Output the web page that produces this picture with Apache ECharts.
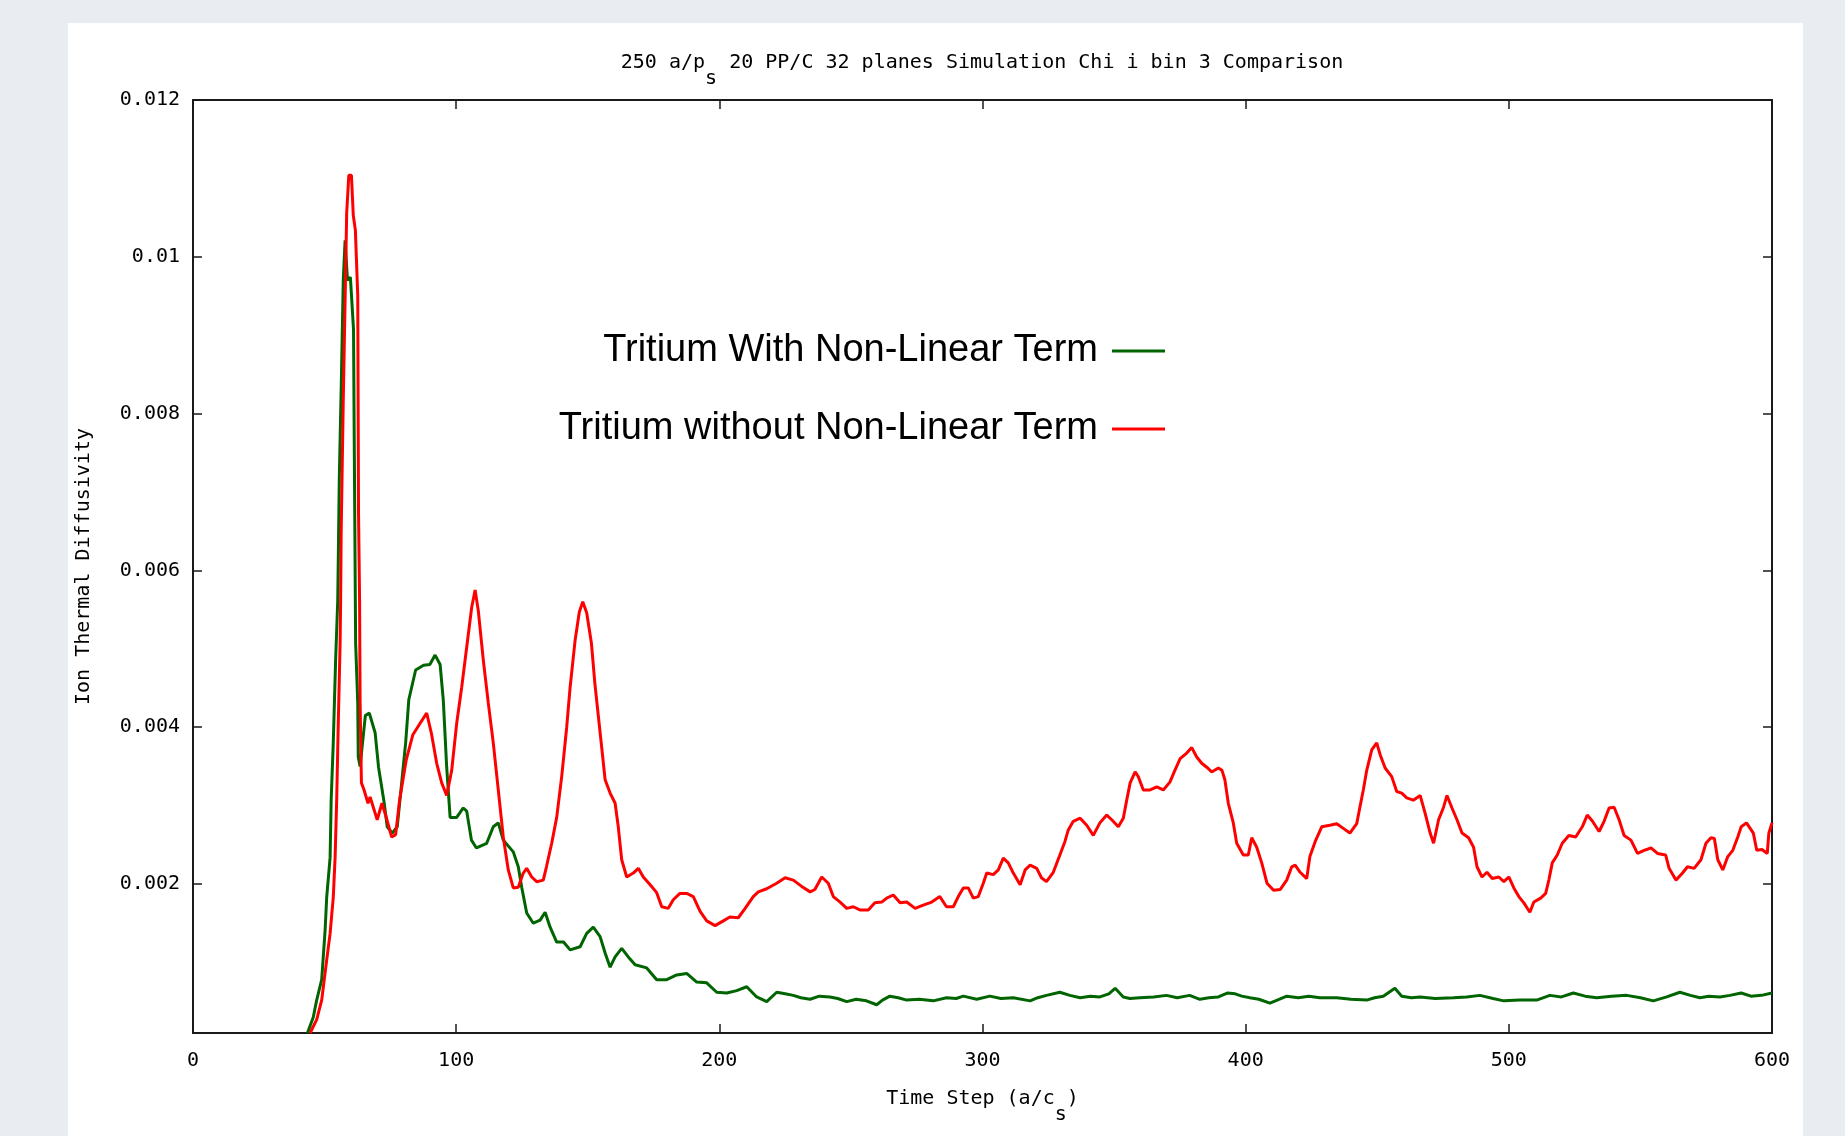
<!DOCTYPE html>
<html>
<head>
<meta charset="utf-8">
<title>Chi i bin 3 Comparison</title>
<script src="https://cdn.jsdelivr.net/npm/echarts@6/dist/echarts.min.js"></script>
<style>
  html, body { margin: 0; padding: 0; width: 1845px; height: 1136px; background: #e9ecf1; overflow: hidden; }
  #card { position: absolute; left: 68px; top: 23px; width: 1735px; height: 1113px; background: #ffffff; }
  #chart { position: absolute; left: 0; top: 0; width: 1845px; height: 1136px; }
</style>
</head>
<body>
<div id="card"></div>
<div id="chart"></div>
<script>
// Series names
const nameWith = 'Tritium With Non-Linear Term';
const nameWithout = 'Tritium without Non-Linear Term';

// Axis ticks
const xTicks = [0, 100, 200, 300, 400, 500, 600];
const yTicks = [0.002, 0.004, 0.006, 0.008, 0.01, 0.012];

// Ion thermal diffusivity vs time step, with the non-linear term  [time, chi]
const withTerm = [
  [43.5, 0.10e-3], [45.7, 0.30e-3], [47.0, 0.52e-3], [48.9, 0.78e-3], [50.2, 1.41e-3],
  [50.8, 1.83e-3], [52.1, 2.34e-3], [52.5, 3.07e-3], [53.3, 3.80e-3], [54.2, 4.86e-3],
  [55.0, 5.62e-3], [55.2, 6.13e-3], [55.6, 7.19e-3], [56.4, 8.47e-3], [57.1, 9.70e-3],
  [57.8, 10.21e-3], [58.7, 9.70e-3], [59.8, 9.74e-3], [60.4, 9.41e-3], [61.0, 9.07e-3],
  [61.3, 7.50e-3], [61.8, 5.07e-3], [62.6, 4.31e-3], [62.8, 3.62e-3], [63.5, 3.50e-3],
  [65.5, 4.15e-3], [67.0, 4.18e-3], [69.2, 3.93e-3], [70.5, 3.49e-3], [72.5, 3.07e-3],
  [73.8, 2.73e-3], [75.7, 2.65e-3], [77.6, 2.73e-3], [78.9, 3.16e-3], [80.8, 3.80e-3],
  [82.0, 4.35e-3], [84.6, 4.73e-3], [87.6, 4.79e-3], [90.0, 4.80e-3], [92.0, 4.92e-3],
  [93.9, 4.80e-3], [95.1, 4.35e-3], [96.4, 3.49e-3], [97.7, 2.85e-3], [100.2, 2.85e-3],
  [102.7, 2.97e-3], [104.0, 2.93e-3], [105.8, 2.56e-3], [107.7, 2.46e-3], [111.6, 2.52e-3],
  [114.1, 2.73e-3], [116.0, 2.78e-3], [117.9, 2.56e-3], [121.7, 2.41e-3], [123.6, 2.22e-3],
  [124.9, 1.96e-3], [126.8, 1.63e-3], [129.3, 1.50e-3], [131.9, 1.54e-3], [133.8, 1.64e-3],
  [135.7, 1.45e-3], [138.2, 1.26e-3], [140.8, 1.26e-3], [143.3, 1.16e-3], [147.1, 1.20e-3],
  [149.6, 1.37e-3], [152.1, 1.45e-3], [154.7, 1.33e-3], [156.6, 1.12e-3], [158.5, 0.94e-3],
  [160.4, 1.07e-3], [162.9, 1.18e-3], [165.4, 1.07e-3], [168.0, 0.97e-3], [172.4, 0.93e-3],
  [176.2, 0.78e-3], [180.0, 0.78e-3], [183.8, 0.84e-3], [187.6, 0.86e-3], [191.4, 0.75e-3],
  [195.2, 0.74e-3], [199.0, 0.62e-3], [202.8, 0.61e-3], [206.6, 0.64e-3], [210.4, 0.69e-3],
  [214.2, 0.56e-3], [218.0, 0.50e-3], [221.8, 0.62e-3], [225.0, 0.60e-3], [228.1, 0.58e-3],
  [231.0, 0.55e-3], [234.5, 0.53e-3], [238.0, 0.57e-3], [242.0, 0.56e-3], [245.0, 0.54e-3],
  [248.4, 0.50e-3], [252.0, 0.53e-3], [255.9, 0.51e-3], [259.8, 0.46e-3], [262.0, 0.52e-3],
  [264.8, 0.57e-3], [268.0, 0.55e-3], [271.2, 0.52e-3], [276.0, 0.53e-3], [281.3, 0.51e-3],
  [286.3, 0.55e-3], [290.0, 0.54e-3], [292.7, 0.57e-3], [297.8, 0.53e-3], [302.8, 0.57e-3],
  [307.0, 0.54e-3], [311.7, 0.55e-3], [318.1, 0.51e-3], [321.0, 0.55e-3], [324.3, 0.58e-3],
  [329.4, 0.62e-3], [333.2, 0.58e-3], [337.1, 0.55e-3], [341.0, 0.57e-3], [344.6, 0.56e-3],
  [348.0, 0.60e-3], [350.4, 0.67e-3], [353.5, 0.56e-3], [356.0, 0.54e-3], [359.8, 0.55e-3],
  [365.0, 0.56e-3], [369.9, 0.58e-3], [374.0, 0.55e-3], [378.7, 0.58e-3], [382.6, 0.53e-3],
  [386.0, 0.55e-3], [389.6, 0.56e-3], [393.0, 0.61e-3], [396.0, 0.60e-3], [398.5, 0.57e-3],
  [401.6, 0.55e-3], [405.0, 0.53e-3], [409.2, 0.48e-3], [412.0, 0.52e-3], [415.6, 0.57e-3],
  [420.0, 0.55e-3], [424.0, 0.57e-3], [428.2, 0.55e-3], [434.6, 0.55e-3], [440.0, 0.53e-3],
  [446.0, 0.52e-3], [449.0, 0.55e-3], [452.3, 0.57e-3], [456.7, 0.67e-3], [459.3, 0.57e-3],
  [463.0, 0.55e-3], [466.3, 0.56e-3], [472.0, 0.54e-3], [478.9, 0.55e-3], [484.0, 0.56e-3],
  [489.0, 0.58e-3], [494.0, 0.54e-3], [498.1, 0.51e-3], [504.2, 0.52e-3], [510.6, 0.52e-3],
  [515.6, 0.58e-3], [520.0, 0.56e-3], [524.5, 0.61e-3], [529.0, 0.57e-3], [533.4, 0.55e-3],
  [539.0, 0.57e-3], [544.8, 0.58e-3], [550.0, 0.55e-3], [554.9, 0.51e-3], [560.0, 0.56e-3],
  [565.0, 0.62e-3], [569.0, 0.58e-3], [572.6, 0.55e-3], [576.0, 0.57e-3], [580.2, 0.56e-3],
  [584.0, 0.58e-3], [588.3, 0.61e-3], [592.0, 0.57e-3], [596.0, 0.58e-3], [600.0, 0.61e-3]
];

// Ion thermal diffusivity vs time step, without the non-linear term  [time, chi]
const withoutTerm = [
  [44.5, 0.10e-3], [47.0, 0.27e-3], [48.9, 0.52e-3], [50.8, 1.03e-3], [52.1, 1.37e-3],
  [53.3, 1.83e-3], [54.0, 2.34e-3], [54.6, 3.07e-3], [55.2, 4.05e-3], [55.9, 5.07e-3],
  [56.1, 5.62e-3], [56.3, 6.48e-3], [57.1, 8.17e-3], [58.4, 10.56e-3], [59.2, 11.04e-3],
  [60.2, 11.04e-3], [60.9, 10.53e-3], [61.7, 10.34e-3], [62.6, 9.51e-3], [62.9, 6.73e-3],
  [63.3, 5.62e-3], [63.5, 4.31e-3], [64.0, 3.29e-3], [65.0, 3.20e-3], [66.5, 3.03e-3],
  [67.3, 3.11e-3], [68.5, 2.98e-3], [70.0, 2.82e-3], [71.8, 3.03e-3], [73.0, 2.90e-3],
  [75.5, 2.60e-3], [77.0, 2.63e-3], [78.5, 3.07e-3], [81.0, 3.58e-3], [83.5, 3.90e-3],
  [86.3, 4.05e-3], [88.8, 4.18e-3], [90.6, 3.92e-3], [92.6, 3.54e-3], [94.5, 3.29e-3],
  [96.4, 3.13e-3], [98.3, 3.45e-3], [100.2, 4.05e-3], [102.1, 4.51e-3], [104.0, 5.02e-3],
  [105.9, 5.53e-3], [107.2, 5.75e-3], [108.4, 5.49e-3], [110.3, 4.86e-3], [112.2, 4.31e-3],
  [114.1, 3.80e-3], [116.0, 3.20e-3], [117.9, 2.60e-3], [119.8, 2.18e-3], [121.7, 1.95e-3],
  [123.6, 1.96e-3], [125.5, 2.14e-3], [126.8, 2.20e-3], [128.7, 2.09e-3], [130.6, 2.03e-3],
  [133.1, 2.05e-3], [134.3, 2.22e-3], [136.3, 2.52e-3], [138.2, 2.85e-3], [140.1, 3.37e-3],
  [142.0, 4.00e-3], [143.3, 4.51e-3], [145.2, 5.11e-3], [146.8, 5.47e-3], [148.1, 5.60e-3],
  [149.6, 5.46e-3], [151.4, 5.07e-3], [152.7, 4.56e-3], [154.7, 3.93e-3], [156.6, 3.33e-3],
  [158.5, 3.16e-3], [160.4, 3.03e-3], [161.6, 2.73e-3], [162.9, 2.31e-3], [164.8, 2.09e-3],
  [167.3, 2.14e-3], [169.2, 2.20e-3], [171.1, 2.09e-3], [173.7, 1.99e-3], [176.2, 1.89e-3],
  [178.1, 1.71e-3], [180.6, 1.69e-3], [182.5, 1.80e-3], [185.0, 1.88e-3], [187.6, 1.88e-3],
  [190.1, 1.84e-3], [192.7, 1.65e-3], [195.2, 1.53e-3], [198.4, 1.47e-3], [201.5, 1.53e-3],
  [204.0, 1.58e-3], [207.2, 1.57e-3], [209.8, 1.69e-3], [212.9, 1.84e-3], [214.8, 1.90e-3],
  [218.0, 1.94e-3], [221.8, 2.01e-3], [225.0, 2.08e-3], [228.1, 2.05e-3], [231.3, 1.97e-3],
  [234.5, 1.90e-3], [236.3, 1.93e-3], [238.9, 2.09e-3], [241.4, 2.01e-3], [243.3, 1.84e-3],
  [245.9, 1.77e-3], [248.4, 1.69e-3], [250.9, 1.71e-3], [253.4, 1.67e-3], [256.6, 1.67e-3],
  [259.1, 1.76e-3], [261.7, 1.77e-3], [263.6, 1.82e-3], [266.1, 1.86e-3], [268.7, 1.76e-3],
  [271.2, 1.77e-3], [274.4, 1.69e-3], [277.5, 1.73e-3], [280.7, 1.77e-3], [283.8, 1.84e-3],
  [286.3, 1.71e-3], [288.9, 1.71e-3], [290.8, 1.84e-3], [292.7, 1.95e-3], [294.6, 1.95e-3],
  [296.5, 1.82e-3], [298.4, 1.84e-3], [300.3, 2.01e-3], [301.6, 2.14e-3], [304.1, 2.12e-3],
  [306.0, 2.18e-3], [307.9, 2.33e-3], [309.8, 2.27e-3], [311.7, 2.14e-3], [314.3, 1.99e-3],
  [316.2, 2.18e-3], [318.1, 2.24e-3], [320.6, 2.20e-3], [322.4, 2.08e-3], [324.3, 2.03e-3],
  [326.9, 2.15e-3], [329.4, 2.37e-3], [331.3, 2.54e-3], [332.6, 2.69e-3], [334.5, 2.80e-3],
  [337.1, 2.84e-3], [339.6, 2.75e-3], [342.1, 2.62e-3], [344.6, 2.78e-3], [347.2, 2.88e-3],
  [349.1, 2.82e-3], [351.6, 2.73e-3], [353.5, 2.84e-3], [354.8, 3.07e-3], [356.1, 3.29e-3],
  [358.0, 3.43e-3], [359.2, 3.37e-3], [361.1, 3.20e-3], [363.7, 3.20e-3], [366.2, 3.24e-3],
  [368.7, 3.20e-3], [371.2, 3.30e-3], [373.1, 3.45e-3], [375.1, 3.60e-3], [377.6, 3.67e-3],
  [379.5, 3.74e-3], [381.4, 3.62e-3], [383.3, 3.54e-3], [385.2, 3.49e-3], [387.1, 3.43e-3],
  [389.6, 3.48e-3], [391.0, 3.45e-3], [392.1, 3.33e-3], [393.4, 3.03e-3], [395.3, 2.78e-3],
  [396.6, 2.52e-3], [399.1, 2.37e-3], [401.0, 2.37e-3], [402.3, 2.59e-3], [404.2, 2.47e-3],
  [406.1, 2.27e-3], [408.1, 2.01e-3], [410.6, 1.92e-3], [413.1, 1.93e-3], [415.6, 2.05e-3],
  [417.5, 2.22e-3], [418.8, 2.24e-3], [420.7, 2.15e-3], [423.2, 2.07e-3], [424.4, 2.35e-3],
  [426.4, 2.54e-3], [428.9, 2.73e-3], [432.0, 2.75e-3], [434.6, 2.77e-3], [437.1, 2.71e-3],
  [439.6, 2.65e-3], [442.2, 2.77e-3], [443.4, 2.98e-3], [444.7, 3.20e-3], [446.0, 3.45e-3],
  [447.9, 3.71e-3], [449.8, 3.80e-3], [451.1, 3.65e-3], [453.0, 3.48e-3], [455.5, 3.37e-3],
  [457.4, 3.18e-3], [459.3, 3.16e-3], [461.2, 3.10e-3], [463.7, 3.07e-3], [466.3, 3.13e-3],
  [468.2, 2.90e-3], [470.1, 2.65e-3], [471.4, 2.52e-3], [473.3, 2.82e-3], [475.2, 2.98e-3],
  [476.5, 3.13e-3], [478.4, 2.97e-3], [480.3, 2.82e-3], [482.2, 2.65e-3], [484.7, 2.59e-3],
  [486.6, 2.47e-3], [487.9, 2.22e-3], [489.8, 2.09e-3], [491.7, 2.15e-3], [493.7, 2.07e-3],
  [496.2, 2.09e-3], [498.1, 2.03e-3], [500.0, 2.09e-3], [501.9, 1.95e-3], [503.8, 1.84e-3],
  [505.7, 1.76e-3], [508.0, 1.64e-3], [509.5, 1.77e-3], [512.1, 1.82e-3], [514.0, 1.88e-3],
  [515.2, 2.05e-3], [516.5, 2.27e-3], [518.4, 2.37e-3], [520.3, 2.52e-3], [522.8, 2.62e-3],
  [525.4, 2.60e-3], [527.9, 2.73e-3], [529.8, 2.88e-3], [531.8, 2.80e-3], [534.3, 2.67e-3],
  [536.2, 2.80e-3], [538.1, 2.97e-3], [540.0, 2.98e-3], [541.9, 2.82e-3], [543.8, 2.62e-3],
  [546.4, 2.56e-3], [548.9, 2.39e-3], [551.4, 2.43e-3], [554.0, 2.46e-3], [556.5, 2.39e-3],
  [559.6, 2.37e-3], [560.9, 2.20e-3], [563.5, 2.05e-3], [566.0, 2.14e-3], [567.9, 2.22e-3],
  [570.4, 2.20e-3], [573.0, 2.31e-3], [574.9, 2.52e-3], [576.8, 2.59e-3], [578.1, 2.58e-3],
  [579.4, 2.31e-3], [581.3, 2.18e-3], [583.2, 2.35e-3], [585.1, 2.43e-3], [587.0, 2.60e-3],
  [588.3, 2.73e-3], [590.3, 2.78e-3], [592.9, 2.65e-3], [594.2, 2.43e-3], [596.2, 2.44e-3],
  [598.2, 2.39e-3], [598.8, 2.65e-3], [600.0, 2.78e-3]
];

const monoFont = 'DejaVu Sans Mono';
const sansFont = 'Liberation Sans';
const borderColor = '#1a1a1a';

// Rich styles: normal text and a lowered subscript
const richText = {
  n: { fontFamily: monoFont, fontSize: 20, fontWeight: 'normal', lineHeight: 20, color: '#000', verticalAlign: 'top' },
  s: { fontFamily: monoFont, fontSize: 20, fontWeight: 'normal', lineHeight: 20, color: '#000', verticalAlign: 'top', padding: [16, 0, 0, 0] }
};

const boxAxisLine = { show: true, onZero: false, lineStyle: { color: borderColor, width: 2 } };
const boxTick = { show: true, inside: true, length: 9, lineStyle: { color: borderColor, width: 1.5 } };

function xAxisDef(position, showLabels) {
  return {
    type: 'value', position: position, min: 0, max: 600, interval: 100,
    axisLine: boxAxisLine,
    axisTick: boxTick,
    splitLine: { show: false },
    axisLabel: {
      show: showLabels, margin: 18, color: '#000',
      fontFamily: monoFont, fontSize: 20,
      customValues: xTicks
    }
  };
}

function yAxisDef(position, showLabels) {
  return {
    type: 'value', position: position, min: 0.0001, max: 0.012,
    axisLine: boxAxisLine,
    axisTick: Object.assign({}, boxTick, { customValues: yTicks }),
    splitLine: { show: false },
    axisLabel: {
      show: showLabels, margin: 13, color: '#000',
      fontFamily: monoFont, fontSize: 20,
      customValues: yTicks,
      formatter: v => String(parseFloat(v.toFixed(4)))
    }
  };
}

const chart = echarts.init(document.getElementById('chart'), null, { renderer: 'canvas' });

const xBottom = xAxisDef('bottom', true);
xBottom.name = '{n|Time Step (a/c}{s|s}{n|)}';
xBottom.nameLocation = 'middle';
xBottom.nameGap = 56;
xBottom.nameTextStyle = { rich: richText };

const yLeft = yAxisDef('left', true);
yLeft.name = 'Ion Thermal Diffusivity';
yLeft.nameLocation = 'middle';
yLeft.nameGap = 99;
yLeft.nameTextStyle = { fontFamily: monoFont, fontSize: 20, color: '#000' };

function legendDef(name, top) {
  return {
    data: [name], right: 680, top: top, align: 'right', orient: 'vertical',
    icon: 'rect', itemWidth: 53, itemHeight: 3, padding: 0, selectedMode: false,
    textStyle: { fontFamily: sansFont, fontSize: 38, color: '#000', lineHeight: 40, padding: [0, 9, 0, 0] }
  };
}

chart.setOption({
  animation: false,
  backgroundColor: 'transparent',
  title: {
    text: '{n|250 a/p}{s|s}{n| 20 PP/C 32 planes Simulation Chi i bin 3 Comparison}',
    left: 982, top: 53, textAlign: 'center', padding: 0,
    textStyle: { fontWeight: 'normal', rich: richText }
  },
  legend: [legendDef(nameWith, 331), legendDef(nameWithout, 409)],
  grid: { left: 193, right: 73, top: 100, bottom: 103, containLabel: false },
  xAxis: [xBottom, xAxisDef('top', false)],
  yAxis: [yLeft, yAxisDef('right', false)],
  series: [
    {
      name: nameWith, type: 'line', xAxisIndex: 0, yAxisIndex: 0,
      data: withTerm, symbol: 'none', clip: true,
      color: '#006400', lineStyle: { color: '#006400', width: 3 }
    },
    {
      name: nameWithout, type: 'line', xAxisIndex: 0, yAxisIndex: 0,
      data: withoutTerm, symbol: 'none', clip: true,
      color: '#ff0000', lineStyle: { color: '#ff0000', width: 3 }
    }
  ]
});
</script>
</body>
</html>
